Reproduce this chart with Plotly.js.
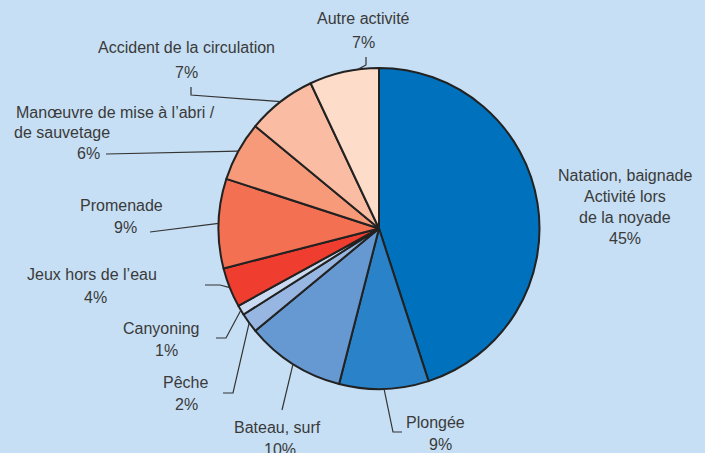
<!DOCTYPE html>
<html>
<head>
<meta charset="utf-8">
<script src="https://cdn.plot.ly/plotly-3.0.1.min.js"></script>
<style>html,body{margin:0;padding:0;background:#c6dff4;}#chart{width:705px;height:453px;}</style>
</head>
<body>
<div id="chart"></div>
<script>
// ---- data ----
const categories = ["Natation, baignade Activité lors de la noyade", "Plongée", "Bateau, surf", "Pêche", "Canyoning",
  "Jeux hors de l’eau", "Promenade", "Manœuvre de mise à l’abri / de sauvetage", "Accident de la circulation", "Autre activité"];
const values = [45, 9, 10, 2, 1, 4, 9, 6, 7, 7];
const labelLines = [
  ["Natation, baignade", "Activité lors", "de la noyade"],
  ["Plongée"], ["Bateau, surf"], ["Pêche"], ["Canyoning"], ["Jeux hors de l’eau"], ["Promenade"],
  ["Manœuvre de mise à l’abri /", "de sauvetage"], ["Accident de la circulation"], ["Autre activité"]
];
const colors = ["#0071bc", "#2a82c9", "#6699d1", "#97b6e1", "#c9daf1", "#ef3e2f", "#f37053", "#f69a7a", "#fabda3", "#fddcca"];

// ---- layout of labels (pixels) ----
const W = 705, H = 453;
const CX = 379, CY = 228.5, R = 160.5;
// per label: text line centers [x,y] (name lines then percent), leader line points (before anchor), anchor fraction
const labelPos = [
  {lines: [[625,175],[625,196],[625,217],[625,238]], lead: null},
  {lines: [[435,422],[440,444]], lead: [[402,432],[393,432]]},
  {lines: [[277,427],[280,449]], lead: [[282,410]]},
  {lines: [[185,382],[186,404]], lead: [[223,393],[233,393]]},
  {lines: [[161,328],[166,350]], lead: [[216,338],[226,338]]},
  {lines: [[92,274],[95,297]], lead: [[205,285],[220,285]]},
  {lines: [[121,205],[125,227]], lead: [[150,232]]},
  {lines: [[116,112],[62,133],[88,154]], lead: [[106,154]]},
  {lines: [[186,48],[186,72]], lead: [[191,87],[191,95]]},
  {lines: [[363,19],[363,42]], lead: [[366,57],[366,65]], frac: 0.7}
];

const px = x => x / W, py = y => 1 - y / H;
const total = values.reduce((a, b) => a + b, 0);
const annotations = [], shapes = [];
let cum = 0;
values.forEach((v, i) => {
  const lp = labelPos[i];
  const texts = labelLines[i].concat([v + "%"]);
  texts.forEach((t, k) => {
    annotations.push({text: t, x: px(lp.lines[k][0]), y: py(lp.lines[k][1]), xref: 'paper', yref: 'paper',
      xanchor: 'center', yanchor: 'middle', showarrow: false,
      font: {family: 'Liberation Sans, Arial, sans-serif', size: 16, color: '#3a3a3a'}});
  });
  if (lp.lead) {
    const f = lp.frac !== undefined ? lp.frac : 0.5;
    const th = 2 * Math.PI * (cum + v * f) / total;
    const ax = CX + R * Math.sin(th), ay = CY - R * Math.cos(th);
    const pts = lp.lead.concat([[ax, ay]]);
    const d = pts.map((p, k) => (k ? 'L' : 'M') + px(p[0]) + ',' + py(p[1])).join(' ');
    shapes.push({type: 'path', xref: 'paper', yref: 'paper', path: d, line: {color: '#333', width: 1.2}});
  }
  cum += v;
});

const trace = {
  type: 'pie', labels: categories, values: values, sort: false, direction: 'clockwise', rotation: 0,
  marker: {colors: colors, line: {color: '#222', width: 2}},
  textinfo: 'none', hoverinfo: 'none', showlegend: false,
  domain: {x: [(CX - R) / W, (CX + R) / W], y: [(H - (CY + R)) / H, (H - (CY - R)) / H]}
};

Plotly.newPlot('chart', [trace], {
  width: W, height: H, margin: {l: 0, r: 0, t: 0, b: 0},
  paper_bgcolor: '#c6dff4', plot_bgcolor: '#c6dff4',
  annotations: annotations, shapes: shapes, showlegend: false
}, {displayModeBar: false, staticPlot: true});
</script>
</body>
</html>
